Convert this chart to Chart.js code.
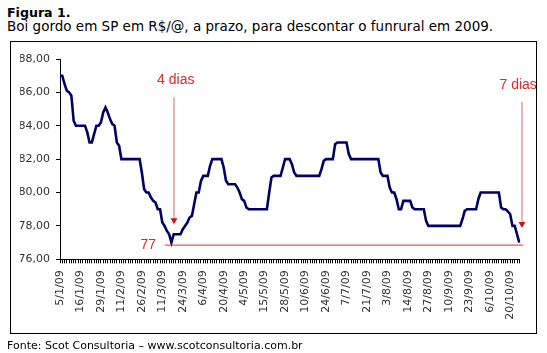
<!DOCTYPE html>
<html><head><meta charset="utf-8">
<script src="https://cdn.jsdelivr.net/npm/chart.js@4/dist/chart.umd.min.js"></script>
<style>
html,body{margin:0;padding:0;background:#fff;}
body{width:547px;height:353px;position:relative;overflow:hidden;font-family:'DejaVu Sans',Verdana,sans-serif;color:#000;}
#t1{position:absolute;left:7px;top:5px;font-weight:bold;font-size:12.6px;line-height:15px;white-space:nowrap;}
#t2{position:absolute;left:7px;top:18px;font-size:13.5px;line-height:16px;white-space:nowrap;}
#box{position:absolute;left:10px;top:41px;width:525px;height:291px;border:1px solid #000;}
#foot{position:absolute;left:7px;top:339px;font-size:11px;line-height:13px;white-space:nowrap;}
#c{position:absolute;left:0;top:0;}
</style></head>
<body>
<div id="t1">Figura 1.</div>
<div id="t2">Boi gordo em SP em R$/@, a prazo, para descontar o funrural em 2009.</div>
<div id="box"></div>
<canvas id="c" width="547" height="353"></canvas>
<div id="foot">Fonte: Scot Consultoria – www.scotconsultoria.com.br</div>
<script>
// Tick labels shown every 9th trading day
const tickLabels = ['5/1/09','16/1/09','29/1/09','11/2/09','26/2/09','11/3/09','24/3/09','6/4/09','20/4/09','4/5/09','15/5/09','28/5/09','10/6/09','24/6/09','7/7/09','21/7/09','3/8/09','14/8/09','27/8/09','10/9/09','23/9/09','6/10/09','20/10/09'];
const labelEvery = 9;

// Daily price, R$/@ (203 trading days, 5/1/09 .. 26/10/09)
const prices = [
 87, 87, 86.5, 86.1, 86, 85.8, 84.3, 84, 84, 84,
 84, 84, 83.6, 83, 83, 83.5, 84, 84, 84.2, 84.8,
 85.1, 84.8, 84.4, 84.1, 84, 83, 82.8, 82, 82, 82,
 82, 82, 82, 82, 82, 82, 81.2, 80.2, 80, 80,
 79.7, 79.5, 79.4, 79, 79, 78.2, 78, 77.7, 77.5, 77,
 77.5, 77.5, 77.5, 77.5, 77.8, 78, 78.2, 78.5, 78.6, 79.3,
 80, 80, 80.7, 81, 81, 81, 81.6, 82, 82, 82,
 82, 82, 81.5, 80.7, 80.5, 80.5, 80.5, 80.5, 80.3, 80,
 79.6, 79.5, 79.1, 79, 79, 79, 79, 79, 79, 79,
 79, 79, 80, 80.9, 81, 81, 81, 81, 81.5, 82,
 82, 82, 81.7, 81.2, 81, 81, 81, 81, 81, 81,
 81, 81, 81, 81, 81, 81.4, 81.9, 82, 82, 82,
 82, 82.9, 83, 83, 83, 83, 83, 82.3, 82, 82,
 82, 82, 82, 82, 82, 82, 82, 82, 82, 82,
 82, 81.2, 81, 81, 81, 80.3, 80, 80, 79.6, 79,
 79, 79.5, 79.5, 79.5, 79.5, 79.1, 79, 79, 79, 79,
 79, 78.3, 78, 78, 78, 78, 78, 78, 78, 78,
 78, 78, 78, 78, 78, 78, 78, 78.4, 78.9, 79,
 79, 79, 79, 79, 79.6, 80, 80, 80, 80, 80,
 80, 80, 80, 80, 79.1, 79, 79, 78.85, 78.7, 78,
 78, 77.5, 77
];

const yTicks = [76, 78, 80, 82, 84, 86, 88];

// Annotations (category index / price values)
const refLineValue = 76.85;
const refLineLabel = '77';
const refLineFrom = 46.2;
const refLineTo = 203.7;
const arrowLabels = ['4 dias', '7 dias'];
const arrowAt = [50.2, 203.3];
const arrowTop = [85.7, 85.43];
const arrowTip = [78.1, 77.88];
const arrowTextAt = [50.9, 201.5];
const arrowTextValue = [86.75, 86.45];

const categories = prices.map((_, i) => (i % labelEvery === 0 && tickLabels[i / labelEvery] !== undefined) ? tickLabels[i / labelEvery] : '');

const RED = '#e3262b';
const annotPlugin = {
  id: 'annot',
  afterDatasetsDraw(chart) {
    const {ctx, scales: {x, y}} = chart;
    ctx.save();
    const ly = y.getPixelForValue(refLineValue);
    const lx0 = x.getPixelForValue(refLineFrom);
    ctx.strokeStyle = RED; ctx.lineWidth = 1;
    ctx.beginPath(); ctx.moveTo(lx0, ly); ctx.lineTo(x.getPixelForValue(refLineTo), ly); ctx.stroke();
    ctx.font = '14px "Liberation Sans", Arial, sans-serif';
    ctx.fillStyle = RED; ctx.textAlign = 'right'; ctx.textBaseline = 'middle';
    ctx.fillText(refLineLabel, lx0 - 9, ly);
    arrowLabels.forEach((lab, k) => {
      const ax = Math.round(x.getPixelForValue(arrowAt[k]));
      const y0 = y.getPixelForValue(arrowTop[k]);
      const y1 = y.getPixelForValue(arrowTip[k]);
      ctx.strokeStyle = '#d86a6a'; ctx.lineWidth = 1;
      ctx.beginPath(); ctx.moveTo(ax, y0); ctx.lineTo(ax, y1 - 5); ctx.stroke();
      ctx.fillStyle = '#c8161d';
      ctx.beginPath(); ctx.moveTo(ax - 3.5, y1 - 6); ctx.lineTo(ax + 3.5, y1 - 6); ctx.lineTo(ax, y1); ctx.closePath(); ctx.fill();
      ctx.fillStyle = RED; ctx.textAlign = 'center'; ctx.textBaseline = 'middle';
      ctx.fillText(lab, x.getPixelForValue(arrowTextAt[k]), y.getPixelForValue(arrowTextValue[k]));
    });
    ctx.restore();
  }
};

Chart.defaults.font.family = '"DejaVu Sans", Verdana, sans-serif';
Chart.defaults.font.size = 11;
Chart.defaults.color = '#333';

new Chart(document.getElementById('c'), {
  type: 'line',
  data: {
    labels: categories,
    datasets: [{
      data: prices,
      borderColor: '#000066',
      borderWidth: 2.6,
      pointRadius: 0,
      tension: 0,
      fill: false
    }]
  },
  options: {
    responsive: false,
    animation: false,
    devicePixelRatio: 1,
    layout: { padding: { left: 20, top: 59, right: 27.7, bottom: 20 } },
    plugins: { legend: { display: false }, tooltip: { enabled: false }, title: { display: false } },
    scales: {
      x: {
        type: 'category',
        offset: false,
        afterFit(s) { s.height = 73.7; },
        grid: { display: true, drawOnChartArea: false, drawTicks: true, tickLength: 4, color: '#000', tickColor: '#000', tickWidth: 1, lineWidth: 1, offset: false },
        border: { display: true, color: '#000', width: 1 },
        ticks: { autoSkip: false, maxRotation: 90, minRotation: 90, padding: 7, color: '#333', font: { size: 11 } }
      },
      y: {
        min: 76, max: 88,
        afterFit(s) { s.width = 40; },
        afterBuildTicks(s) { s.ticks = yTicks.map(v => ({ value: v })); },
        grid: { display: true, drawOnChartArea: false, drawTicks: true, tickLength: 4, color: '#000', tickColor: '#000', lineWidth: 1 },
        border: { display: true, color: '#000', width: 1 },
        ticks: { padding: 6, color: '#333', font: { size: 11 }, callback: v => v.toFixed(2).replace('.', ',') }
      }
    }
  },
  plugins: [annotPlugin]
});
</script>
</body></html>
